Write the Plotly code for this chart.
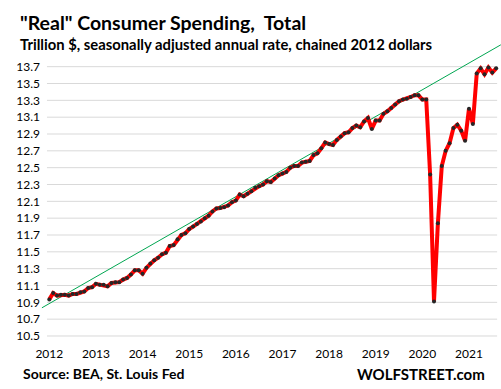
import plotly.graph_objects as go

# ---------------- data ----------------
year_labels = ["2012", "2013", "2014", "2015", "2016", "2017", "2018", "2019", "2020", "2021"]
year_positions = [0, 12, 24, 36, 48, 60, 72, 84, 96, 108]  # month index of each January

# Real PCE, trillion chained-2012 $, monthly Jan 2012 .. Aug 2021
spending = [
    10.935, 11.01, 10.98, 10.99, 10.99, 10.98, 11.00, 11.00, 11.02, 11.03, 11.07, 11.08,   # 2012
    11.12, 11.11, 11.11, 11.09, 11.13, 11.14, 11.14, 11.17, 11.19, 11.23, 11.28, 11.28,    # 2013
    11.24, 11.31, 11.36, 11.40, 11.43, 11.47, 11.49, 11.57, 11.58, 11.65, 11.70, 11.72,    # 2014
    11.77, 11.80, 11.83, 11.86, 11.90, 11.93, 11.98, 12.015, 12.02, 12.03, 12.05, 12.09,   # 2015
    12.11, 12.18, 12.16, 12.19, 12.22, 12.26, 12.28, 12.30, 12.34, 12.33, 12.37, 12.41,    # 2016
    12.43, 12.45, 12.50, 12.52, 12.52, 12.56, 12.57, 12.58, 12.65, 12.67, 12.73, 12.80,    # 2017
    12.78, 12.77, 12.83, 12.87, 12.91, 12.92, 12.97, 13.00, 12.98, 13.05, 13.09, 12.96,    # 2018
    13.06, 13.06, 13.14, 13.17, 13.21, 13.25, 13.29, 13.31, 13.32, 13.34, 13.36, 13.36,    # 2019
    13.31, 13.31, 12.42, 10.91, 11.84, 12.52, 12.70, 12.79, 12.97, 13.01, 12.94, 12.82,    # 2020
    13.20, 13.02, 13.62, 13.68, 13.61, 13.69, 13.63, 13.68,                                # 2021
]
months = list(range(len(spending)))

# green trend line end points (month index, value)
trend_months = [-1.9, 116.2]
trend_values = [10.835, 13.96]

y_ticks = [10.5, 10.7, 10.9, 11.1, 11.3, 11.5, 11.7, 11.9, 12.1, 12.3,
           12.5, 12.7, 12.9, 13.1, 13.3, 13.5, 13.7]

# ---------------- layout geometry ----------------
W, H = 501, 389
ML, MR, MT, MB = 41, 0, 40, 44
X_RANGE = [-2.136, 116.24]
Y_RANGE = [10.393, 14.017]
GRID_X = [-0.6, 115.25]

def px_x(px):
    return (px - ML) / (W - ML - MR)

def px_y(py):
    return (H - MB - py) / (H - MT - MB)

FONT = "Lato"

fig = go.Figure()

fig.add_trace(go.Scatter(
    x=trend_months, y=trend_values, mode="lines",
    line=dict(color="#00A651", width=1), hoverinfo="skip", showlegend=False,
))

fig.add_trace(go.Scatter(
    x=months, y=spending, mode="lines+markers",
    line=dict(color="#FF0000", width=4),
    marker=dict(color="#262626", size=4),
    showlegend=False,
))

shapes = []
for v in y_ticks:
    shapes.append(dict(type="line", xref="x", yref="y", x0=GRID_X[0], x1=GRID_X[1],
                       y0=v, y1=v, line=dict(color="#D9D9D9", width=1), layer="below"))

annotations = [
    dict(text='"Real" Consumer Spending,  Total', x=px_x(18), y=px_y(22),
         xref="paper", yref="paper", xanchor="left", yanchor="middle", showarrow=False,
         font=dict(family=FONT, size=19.5, color="#000000", weight="bold")),
    dict(text="Trillion $, seasonally adjusted annual rate, chained 2012 dollars",
         x=px_x(18), y=px_y(44), xref="paper", yref="paper", xanchor="left", yanchor="middle",
         showarrow=False, font=dict(family=FONT, size=14.8, color="#000000", weight="bold")),
    dict(text="Source: BEA, St. Louis Fed", x=px_x(21), y=px_y(373),
         xref="paper", yref="paper", xanchor="left", yanchor="middle", showarrow=False,
         font=dict(family=FONT, size=14, color="#000000", weight="bold")),
    dict(text="WOLFSTREET.com", x=px_x(487), y=px_y(374),
         xref="paper", yref="paper", xanchor="right", yanchor="middle", showarrow=False,
         font=dict(family=FONT, size=15, color="#000000", weight="bold")),
]

fig.update_layout(
    width=W, height=H,
    margin=dict(l=ML, r=MR, t=MT, b=MB, pad=0, autoexpand=False),
    paper_bgcolor="white", plot_bgcolor="white",
    shapes=shapes, annotations=annotations,
    font=dict(family=FONT, color="#000000"),
    xaxis=dict(range=X_RANGE, showgrid=False, zeroline=False, showline=False,
               tickvals=year_positions, ticktext=year_labels, ticks="", automargin=False,
               tickfont=dict(family=FONT, size=12, color="#000000")),
    yaxis=dict(range=Y_RANGE, showgrid=False, zeroline=False, showline=False,
               tickvals=y_ticks, ticktext=[f"{v:.1f}" for v in y_ticks], ticks="", automargin=False,
               tickfont=dict(family=FONT, size=12, color="#000000")),
)

fig.write_html("out.html", config={"displayModeBar": False},
               post_script="document.body.style.margin='0';document.body.style.overflow='hidden';")
